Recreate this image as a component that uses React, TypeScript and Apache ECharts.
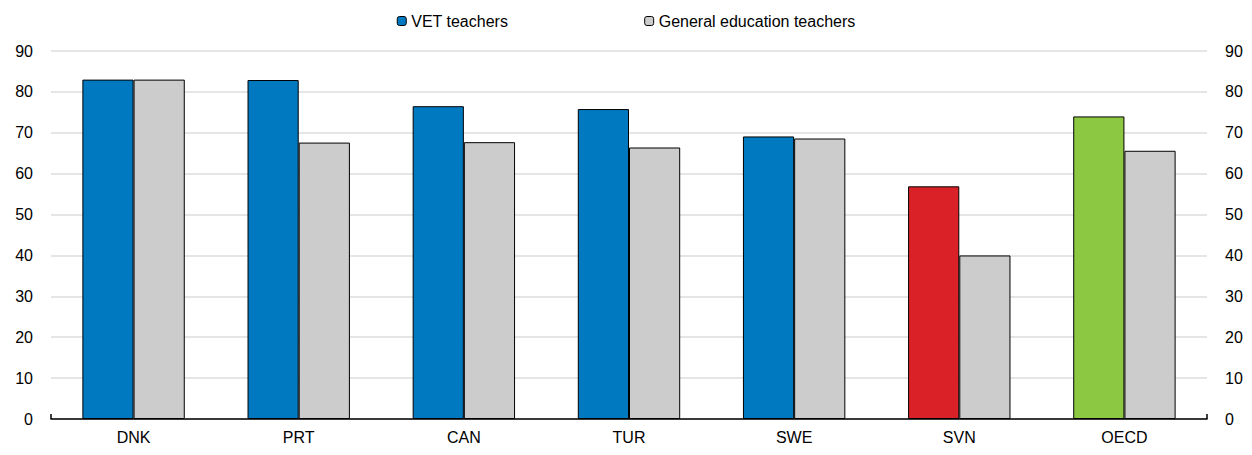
import React, { useEffect, useRef } from "react";
import * as echarts from "echarts";

const categories = ["DNK", "PRT", "CAN", "TUR", "SWE", "SVN", "OECD"];
const vetValues = [83, 82.9, 76.5, 75.8, 69.1, 56.9, 74.0];
const generalValues = [83, 67.6, 67.7, 66.4, 68.6, 40.0, 65.6];
const vetColors = ["#0179C0", "#0179C0", "#0179C0", "#0179C0", "#0179C0", "#DA2128", "#8CC841"];
const yTicks = { min: 0, max: 90, interval: 10 };

export default function App() {
  const ref = useRef<HTMLDivElement>(null);
  useEffect(() => {
    document.body.style.margin = "0";
    const chart = echarts.init(ref.current!, null, { renderer: "svg" });
    const font = "Arial, 'Liberation Sans', sans-serif";
    const yAxisBase = {
      type: "value" as const,
      min: yTicks.min,
      max: yTicks.max,
      interval: yTicks.interval,
      axisLine: { show: false },
      axisTick: { show: false },
      axisLabel: { color: "#000", fontSize: 16, fontFamily: font, margin: 18 },
    };
    chart.setOption({
      animation: false,
      textStyle: { fontFamily: font },
      legend: {
        top: 8,
        left: "center",
        itemWidth: 9,
        itemHeight: 9,
        itemGap: 136,
        textStyle: { color: "#000", fontSize: 16, fontFamily: font },
        data: [
          { name: "VET teachers", itemStyle: { color: "#0179C0", borderColor: "#000", borderWidth: 1 } },
          { name: "General education teachers", itemStyle: { color: "#CCCCCC", borderColor: "#000", borderWidth: 1 } },
        ],
      },
      grid: { left: 51, right: 45, top: 51, bottom: 36, containLabel: false },
      xAxis: [
        {
          type: "category",
          data: categories,
          axisLine: { lineStyle: { color: "#000", width: 1.5 } },
          axisTick: { show: false },
          axisLabel: { color: "#000", fontSize: 16, fontFamily: font, margin: 10 },
        },
        {
          type: "value",
          min: 0,
          max: 1,
          interval: 1,
          position: "bottom",
          axisLine: { show: false },
          axisLabel: { show: false },
          splitLine: { show: false },
          axisTick: { show: true, inside: true, length: 5, lineStyle: { color: "#000", width: 1.5 } },
        },
      ],
      yAxis: [
        { ...yAxisBase, position: "left", splitLine: { lineStyle: { color: "#DDDDDD", width: 1.5 } } },
        { ...yAxisBase, position: "right", splitLine: { show: false } },
      ],
      series: [
        {
          name: "VET teachers",
          type: "bar",
          barWidth: "31%",
          barGap: "0%",
          data: vetValues.map((v, i) => ({
            value: v,
            itemStyle: { color: vetColors[i], borderColor: "#000", borderWidth: 1 },
          })),
          itemStyle: { color: "#0179C0", borderColor: "#000", borderWidth: 1 },
        },
        {
          name: "General education teachers",
          type: "bar",
          barWidth: "31%",
          barGap: "0%",
          data: generalValues,
          itemStyle: { color: "#CCCCCC", borderColor: "#000", borderWidth: 1 },
        },
      ],
    });
    return () => chart.dispose();
  }, []);
  return <div ref={ref} style={{ width: 1252, height: 455 }} />;
}
